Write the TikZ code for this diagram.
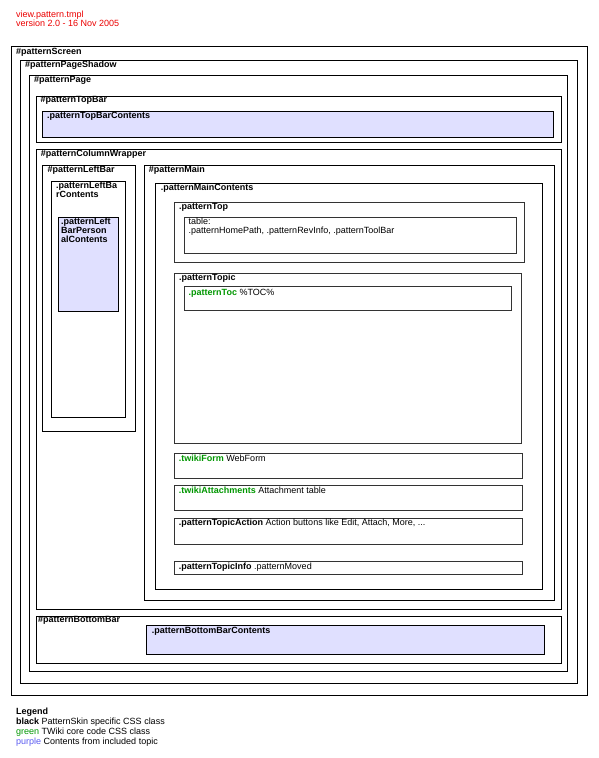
\documentclass[tikz,border=0pt]{standalone}
\usepackage{fontspec}
\setmainfont{Liberation Sans}
\definecolor{lav}{RGB}{224,224,255}
\definecolor{tgreen}{RGB}{0,150,0}
\definecolor{tpurple}{RGB}{90,90,240}
\definecolor{tred}{RGB}{235,0,0}
\tikzset{
  box/.style={draw=black, line width=0.9pt, inner sep=0pt, outer sep=0pt, anchor=north west},
  sbox/.style={box, draw=black!80},
  lavbox/.style={box, fill=lav},
  lbl/.style={anchor=base west, inner sep=0pt, font=\fontsize{9}{9.3}\selectfont\bfseries, align=left},
  txt/.style={anchor=base west, inner sep=0pt, font=\fontsize{9}{9.3}\selectfont, align=left},
}
\newcommand{\bx}[6][box]{\node[#1, minimum width={(#5-#3)*1pt}, minimum height={(#6-#4)*1pt}] (#2) at (#3,#4) {};}
\begin{document}
\begin{tikzpicture}[x=1pt,y=-1pt]
\useasboundingbox (0,0) rectangle (598,758);
% header
\node[txt, text=tred] (h1) at (16,17) {view.pattern.tmpl};
\node[txt, text=tred] (h2) at (16,26.7) {version 2.0 - 16 Nov 2005};
% boxes
\bx{screen}{11.5}{46}{587.5}{695}
\bx{shadow}{20.5}{60.5}{577.5}{683.5}
\bx{page}{29.5}{75.5}{567.5}{671}
\bx{topbar}{36}{96}{561.5}{142}
\bx[lavbox]{topbarc}{42}{111.5}{553.5}{137.5}
\bx{colwrap}{36.5}{149}{561.5}{609.5}
\bx{leftbar}{42.5}{165}{135.5}{431.5}
\bx{leftbarc}{51.3}{181.3}{125.7}{417.3}
\bx[lavbox]{personal}{58.3}{217.7}{118.7}{311.3}
\bx{main}{144}{165.3}{554.3}{600.3}
\bx{maincont}{155.5}{183.3}{542.3}{589.3}
\bx[sbox]{ptop}{174}{202.5}{524.3}{262.7}
\bx[sbox]{tablebox}{184.7}{217.2}{516.5}{253.7}
\bx[sbox]{ptopic}{174}{273}{521.7}{443}
\bx[sbox]{toc}{184.7}{286.7}{511.7}{310}
\bx[sbox]{form}{174}{453.3}{522}{478.3}
\bx[sbox]{attach}{174}{485.7}{522}{510.7}
\bx[sbox]{action}{174}{518}{522}{544.7}
\bx[sbox]{info}{174}{561.7}{522.3}{574}
\bx{bottombar}{36}{616.3}{561.5}{663}
\bx[lavbox]{bottombarc}{146.3}{625.5}{544.3}{654.3}
% labels
\node[lbl] (screen-l) at (16,54) {\#patternScreen};
\node[lbl] (shadow-l) at (25,67.5) {\#patternPageShadow};
\node[lbl] (page-l) at (34,82.5) {\#patternPage};
\node[lbl] (topbar-l) at (40.5,102.5) {\#patternTopBar};
\node[lbl] (topbarc-l) at (47,118.7) {.patternTopBarContents};
\node[lbl] (colwrap-l) at (40.7,156.7) {\#patternColumnWrapper};
\node[lbl] (leftbar-l) at (47.3,172.7) {\#patternLeftBar};
\node[lbl] (leftbarc-l) at (56,197.3) {.patternLeftBa\\rContents};
\node[lbl] (personal-l) at (61,242.9) {.patternLeft\\BarPerson\\alContents};
\node[lbl] (main-l) at (148.7,172.7) {\#patternMain};
\node[lbl] (maincont-l) at (160.7,190) {.patternMainContents};
\node[lbl] (ptop-l) at (179,209.3) {.patternTop};
\node[txt] (tablebox-l) at (188.5,233.6) {table:\\.patternHomePath, .patternRevInfo, .patternToolBar};
\node[lbl] (ptopic-l) at (179,280) {.patternTopic};
\node[txt] (toc-l) at (188.5,295.3) {\textcolor{tgreen}{\bfseries .patternToc} \%TOC\%};
\node[txt] (form-l) at (178.7,461.3) {\textcolor{tgreen}{\bfseries .twikiForm} WebForm};
\node[txt] (attach-l) at (178.7,493.7) {\textcolor{tgreen}{\bfseries .twikiAttachments} Attachment table};
\node[txt] (action-l) at (178.7,525.3) {\textbf{.patternTopicAction} Action buttons like Edit, Attach, More, ...};
\node[txt] (info-l) at (178.7,569.3) {\textbf{.patternTopicInfo} .patternMoved};
\node[lbl] (bottombar-l) at (38,622.3) {\#patternBottomBar};
\node[lbl] (bottombarc-l) at (151.7,633.3) {.patternBottomBarContents};
% legend
\node[lbl] (leg) at (16,714.7) {Legend};
\node[txt] (leg1) at (16,724.7) {\textbf{black} PatternSkin specific CSS class};
\node[txt] (leg2) at (16,734.3) {\textcolor{tgreen}{green} TWiki core code CSS class};
\node[txt] (leg3) at (16,744) {\textcolor{tpurple}{purple} Contents from included topic};
\end{tikzpicture}
\end{document}
